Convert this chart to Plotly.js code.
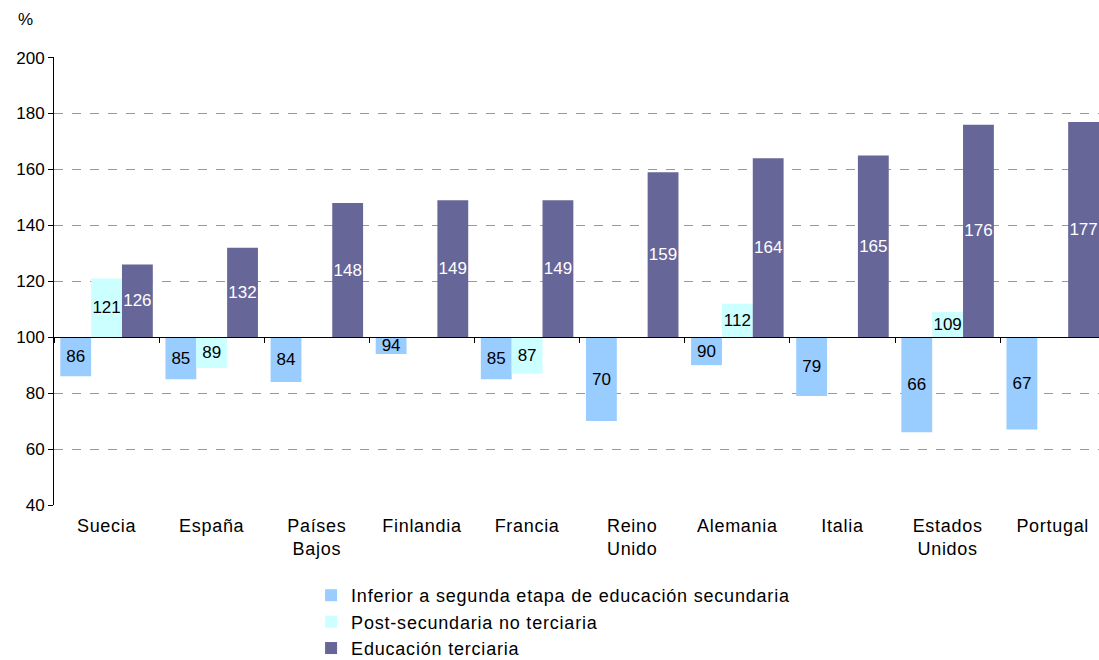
<!DOCTYPE html>
<html>
<head>
<meta charset="utf-8">
<script src="https://cdn.plot.ly/plotly-3.0.1.min.js"></script>
<style>
html,body{margin:0;padding:0;background:#fff;}
#chart{width:1099px;height:660px;}
#chart .legend, #chart .legend *{clip-path:none !important;}
#chart .legendtext{letter-spacing:0.8px;}
#chart .xtick text{letter-spacing:0.7px;}
</style>
</head>
<body>
<div id="chart"></div>
<script>
const categories = ["Suecia", "España", "Países<br>Bajos", "Finlandia", "Francia", "Reino<br>Unido", "Alemania", "Italia", "Estados<br>Unidos", "Portugal"];
const seriesNames = ["Inferior a segunda etapa de educación secundaria", "Post-secundaria no terciaria", "Educación terciaria"];
const inferior = [86, 85, 84, 94, 85, 70, 90, 79, 66, 67];
const postSecundaria = [121, 89, null, null, 87, null, 112, null, 109, null];
const terciaria = [126, 132, 148, 149, 149, 159, 164, 165, 176, 177];
const baseValue = 100;
const yTicks = [40, 60, 80, 100, 120, 140, 160, 180, 200];

const colors = ["#99CCFF", "#CCFFFF", "#666699"];
const textColors = ["#000000", "#000000", "#FFFFFF"];
const idx = categories.map((c, i) => i);

function mk(vals, k) {
  return {
    type: "bar",
    name: seriesNames[k],
    x: idx,
    y: vals.map(v => v === null ? null : v - baseValue),
    base: vals.map(v => v === null ? null : baseValue),
    text: vals.map(v => v === null ? "" : String(v)),
    textposition: "inside",
    insidetextanchor: "middle",
    textangle: 0,
    constraintext: "none",
    textfont: {family: "Liberation Sans, Arial, sans-serif", size: 17, color: textColors[k]},
    marker: {color: colors[k], line: {width: 0}},
    hoverinfo: "skip",
    cliponaxis: false
  };
}

const data = [mk(inferior, 0), mk(postSecundaria, 1), mk(terciaria, 2)];
const xr = [-0.5, 9.44];
const boundaries = categories.map((c, i) => i - 0.5);

const layout = {
  width: 1099, height: 660,
  paper_bgcolor: "#fff", plot_bgcolor: "#fff",
  margin: {l: 54, r: 0, t: 57, b: 155},
  barmode: "group",
  bargap: 0.12, bargroupgap: 0,
  font: {family: "Liberation Sans, Arial, sans-serif", size: 17, color: "#000"},
  showlegend: true,
  legend: {x: 0.246, xanchor: "left", xref: "paper", yref: "container", y: 0.1257, yanchor: "top",
           orientation: "v", font: {size: 18}, tracegroupgap: 0, itemwidth: 30,
           bgcolor: "rgba(0,0,0,0)"},
  xaxis: {
    range: xr, tickmode: "array", tickvals: idx, ticktext: categories,
    showline: false, ticks: "", showgrid: false, zeroline: false,
    tickfont: {size: 18}, ticklabelstandoff: 8, fixedrange: true
  },
  xaxis2: {
    overlaying: "x", anchor: "free", position: (baseValue - 40) / 160.2,
    range: xr, tickmode: "array", tickvals: boundaries, showticklabels: false,
    ticks: "outside", ticklen: 5, tickcolor: "#000", tickwidth: 1,
    showline: true, linecolor: "#000", linewidth: 1, showgrid: false, zeroline: false
  },
  yaxis: {
    range: [40, 200.2], tickmode: "array", tickvals: yTicks,
    showline: true, linecolor: "#000", linewidth: 1,
    ticks: "outside", ticklen: 5, tickcolor: "#000",
    showgrid: true, gridcolor: "#999999", griddash: "dash", gridwidth: 1,
    zeroline: false, tickfont: {size: 17}
  },
  annotations: [{text: "%", xref: "paper", yref: "paper", x: -0.0277, y: 1.0826,
                 xanchor: "center", yanchor: "middle", showarrow: false, font: {size: 17}}]
};

data.push({type: "scatter", x: [], y: [], xaxis: "x2", showlegend: false, hoverinfo: "skip"});

Plotly.newPlot("chart", data, layout, {displayModeBar: false, staticPlot: true});
</script>
</body>
</html>
